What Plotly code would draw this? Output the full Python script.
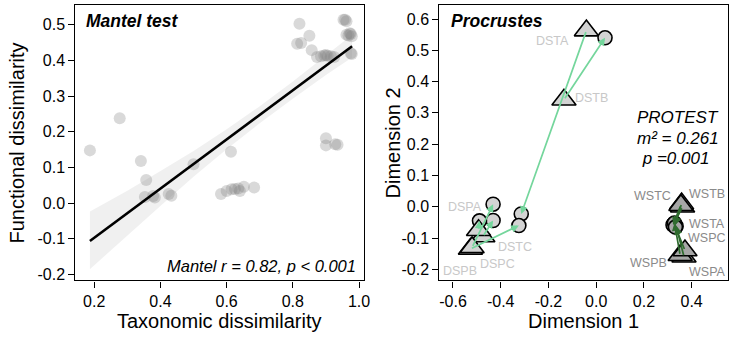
import plotly.graph_objects as go

# ---------------- Mantel panel data ----------------
tax_dissim = [0.187, 0.277, 0.341, 0.357, 0.353, 0.383, 0.378, 0.425, 0.433, 0.500,
              0.613, 0.583, 0.600, 0.615, 0.625, 0.635, 0.640, 0.652, 0.683,
              0.820, 0.813, 0.825, 0.850, 0.857, 0.873, 0.885, 0.895, 0.905, 0.915, 0.925, 0.900,
              0.953, 0.958, 0.962, 0.962, 0.968, 0.975, 0.978, 0.972, 0.975, 0.978,
              0.900, 0.900, 0.928, 0.935]
fun_dissim = [0.148, 0.238, 0.118, 0.065, 0.017, 0.016, 0.020, 0.026, 0.021, 0.109,
              0.144, 0.026, 0.034, 0.039, 0.040, 0.041, 0.034, 0.046, 0.044,
              0.503, 0.447, 0.449, 0.469, 0.429, 0.410, 0.412, 0.414, 0.413, 0.412, 0.410, 0.415,
              0.514, 0.514, 0.510, 0.472, 0.470, 0.474, 0.468, 0.476, 0.420, 0.418,
              0.182, 0.162, 0.165, 0.164]

# fitted regression line and its confidence band
fit_x = [0.187, 0.979]
fit_y = [-0.106, 0.440]
band_x = [0.187, 0.30, 0.40, 0.50, 0.60, 0.70, 0.80, 0.90, 0.979]
band_hi = [-0.023, 0.035, 0.090, 0.146, 0.207, 0.272, 0.341, 0.413, 0.472]
band_lo = [-0.185, -0.092, -0.008, 0.074, 0.151, 0.224, 0.293, 0.359, 0.408]

mantel_xticks = [0.2, 0.4, 0.6, 0.8, 1.0]
mantel_xticklabels = ["0.2", "0.4", "0.6", "0.8", "1.0"]
mantel_yticks = [-0.2, -0.1, 0.0, 0.1, 0.2, 0.3, 0.4, 0.5]
mantel_yticklabels = ["-0.2", "-0.1", "0.0", "0.1", "0.2", "0.3", "0.4", "0.5"]

# ---------------- Procrustes panel data ----------------
sites = ["DSTA", "DSTB", "DSTC", "DSPA", "DSPB", "DSPC",
         "WSTA", "WSTB", "WSTC", "WSPA", "WSPB", "WSPC"]
groups = ["D"] * 6 + ["W"] * 6
tax_dim1 = [-0.041, -0.135, -0.475, -0.493, -0.527, -0.520,
            0.362, 0.358, 0.355, 0.368, 0.352, 0.372]
tax_dim2 = [0.563, 0.342, -0.095, -0.075, -0.135, -0.130,
            0.000, 0.010, 0.005, -0.160, -0.155, -0.140]
fun_dim1 = [-0.314, 0.037, -0.432, -0.489, -0.324, -0.432,
            0.325, 0.330, 0.322, 0.335, 0.328, 0.332]
fun_dim2 = [-0.023, 0.540, -0.044, -0.045, -0.060, 0.008,
            -0.055, -0.060, -0.058, -0.062, -0.052, -0.065]
label_dim1 = [-0.183, -0.018, -0.342, -0.549, -0.570, -0.415,
              0.465, 0.465, 0.237, 0.465, 0.219, 0.465]
label_dim2 = [0.529, 0.347, -0.128, 0.000, -0.204, -0.184,
              -0.055, 0.040, 0.033, -0.210, -0.181, -0.099]

proc_xticks = [-0.6, -0.4, -0.2, 0.0, 0.2, 0.4]
proc_xticklabels = ["-0.6", "-0.4", "-0.2", "0.0", "0.2", "0.4"]
proc_yticks = [-0.2, -0.1, 0.0, 0.1, 0.2, 0.3, 0.4, 0.5, 0.6]
proc_yticklabels = ["-0.2", "-0.1", "0.0", "0.1", "0.2", "0.3", "0.4", "0.5", "0.6"]

# ---------------- styles ----------------
FONT = "Liberation Sans, Arial, sans-serif"
fill_col = {"D": "#D3D3D3", "W": "#A6A6A6"}
arrow_col = {"D": "#74D69C", "W": "#2F6B2F"}
label_col = {"D": "#C8C8C8", "W": "#8A8A8A"}

fig = go.Figure()

# confidence band
fig.add_trace(go.Scatter(
    x=band_x + band_x[::-1], y=band_hi + band_lo[::-1],
    fill="toself", fillcolor="rgba(0,0,0,0.06)", line=dict(width=0),
    mode="lines", hoverinfo="skip", showlegend=False, xaxis="x", yaxis="y"))
# pairwise dissimilarities
fig.add_trace(go.Scatter(
    x=tax_dissim, y=fun_dissim, mode="markers",
    marker=dict(size=12, color="rgba(128,128,128,0.3)", line=dict(width=0)),
    showlegend=False, xaxis="x", yaxis="y"))
# regression line
fig.add_trace(go.Scatter(
    x=fit_x, y=fit_y, mode="lines", line=dict(color="black", width=2.6),
    showlegend=False, xaxis="x", yaxis="y"))

# Procrustes points: circles (functional), triangles (taxonomic)
for g in ["D", "W"]:
    idx = [i for i, gg in enumerate(groups) if gg == g]
    fig.add_trace(go.Scatter(
        x=[fun_dim1[i] for i in idx], y=[fun_dim2[i] for i in idx], mode="markers",
        marker=dict(symbol="circle", size=14, color=fill_col[g],
                    line=dict(color="black", width=1.6)),
        showlegend=False, xaxis="x2", yaxis="y2"))
    fig.add_trace(go.Scatter(
        x=[tax_dim1[i] for i in idx], y=[tax_dim2[i] for i in idx], mode="markers",
        marker=dict(symbol="triangle-up", size=21, color=fill_col[g],
                    line=dict(color="black", width=1.6)),
        showlegend=False, xaxis="x2", yaxis="y2"))

annotations = []
# residual arrows from taxonomic to functional configuration
for i in range(len(sites)):
    g = groups[i]
    annotations.append(dict(
        x=fun_dim1[i], y=fun_dim2[i], ax=tax_dim1[i], ay=tax_dim2[i],
        xref="x2", yref="y2", axref="x2", ayref="y2", text="",
        showarrow=True, arrowhead=2, arrowsize=0.9, arrowwidth=1.7,
        arrowcolor=arrow_col[g], standoff=0, startstandoff=0))
# site labels
for i, s in enumerate(sites):
    annotations.append(dict(
        x=label_dim1[i], y=label_dim2[i], xref="x2", yref="y2", text=s,
        xanchor="center", yanchor="middle", showarrow=False,
        font=dict(family=FONT, size=12.5, color=label_col[groups[i]])))


def paper_text(px, py, text, size, angle=0, xanchor="center"):
    """Text placed at a pixel position of the 738x337 canvas."""
    return dict(x=px / 738, y=1 - py / 337, xref="paper", yref="paper",
                xanchor=xanchor, yanchor="middle", text=text, textangle=angle,
                showarrow=False, font=dict(family=FONT, size=size, color="black"))


# panel headings and statistics
annotations += [
    dict(x=0.031, y=0.942, xref="x domain", yref="y domain", xanchor="left", yanchor="middle",
         text="<b><i>Mantel test</i></b>", showarrow=False,
         font=dict(family=FONT, size=17.5, color="black")),
    dict(x=0.978, y=0.054, xref="x domain", yref="y domain", xanchor="right", yanchor="middle",
         text="<i>Mantel r = 0.82, p < 0.001</i>", showarrow=False,
         font=dict(family=FONT, size=16.5, color="black")),
    dict(x=0.033, y=0.942, xref="x2 domain", yref="y2 domain", xanchor="left", yanchor="middle",
         text="<b><i>Procrustes</i></b>", showarrow=False,
         font=dict(family=FONT, size=17.5, color="black")),
    paper_text(640, 119, "<i>PROTEST</i>", 17, xanchor="left"),
    paper_text(640, 139.5, "<i>m² = 0.261</i>", 17, xanchor="left"),
    paper_text(641, 159.5, "<i> p =0.001</i>", 17, xanchor="left"),
    # axis titles
    paper_text(221, 324, "Taxonomic dissimilarity", 20),
    paper_text(588, 324, "Dimension 1", 20),
    paper_text(17, 144, "Functional dissimilarity", 20, angle=-90),
    paper_text(396, 144, "Dimension 2", 20, angle=-90),
]

axis_common = dict(showline=True, mirror=True, linecolor="black", linewidth=1.2,
                   ticks="outside", ticklen=6, tickwidth=1.2, tickcolor="black",
                   showgrid=False, zeroline=False,
                   tickfont=dict(family=FONT, size=16, color="black"))

y_dom = [1 - 283 / 337, 1 - 5 / 337]
fig.update_layout(
    width=738, height=337,
    margin=dict(l=0, r=0, t=0, b=0),
    paper_bgcolor="white", plot_bgcolor="white",
    showlegend=False,
    xaxis=dict(domain=[76 / 738, 367 / 738], range=[0.1431, 1.015],
               tickvals=mantel_xticks, ticktext=mantel_xticklabels, anchor="y", **axis_common),
    yaxis=dict(domain=y_dom, range=[-0.2167, 0.5556],
               tickvals=mantel_yticks, ticktext=mantel_yticklabels, anchor="x", **axis_common),
    xaxis2=dict(domain=[443 / 738, 734 / 738], range=[-0.657, 0.5525],
                tickvals=proc_xticks, ticktext=proc_xticklabels, anchor="y2", **axis_common),
    yaxis2=dict(domain=y_dom, range=[-0.2357, 0.645],
                tickvals=proc_yticks, ticktext=proc_yticklabels, anchor="x2", **axis_common),
    annotations=annotations,
)

fig.write_html("out.html")
